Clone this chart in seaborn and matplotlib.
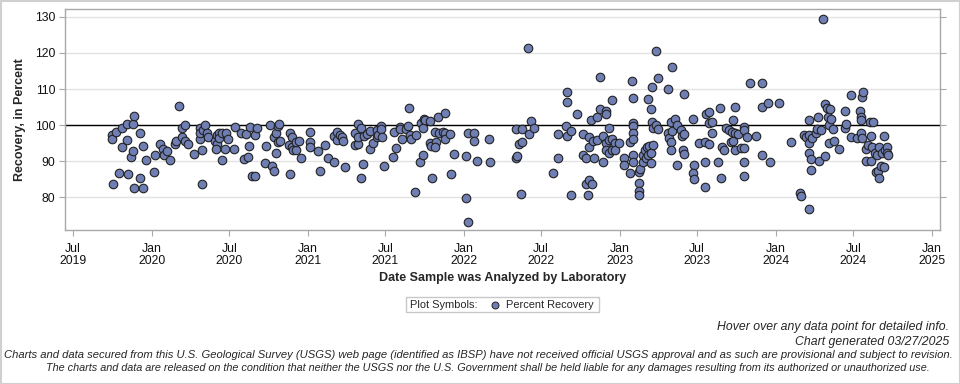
import matplotlib
matplotlib.use("Agg")
import matplotlib.pyplot as plt
import matplotlib.dates as mdates
from matplotlib.lines import Line2D
from matplotlib.patches import Rectangle
import seaborn as sns
import pandas as pd

# analysis dates (month-day) and percent recovery, one pair of lists per year
dates_2019 = ["09-30", "10-01", "10-02", "10-09", "10-17", "10-23", "10-24", "11-04", "11-05", "11-06",
              "11-14", "11-18", "11-18", "11-21", "11-21", "12-05", "12-05", "12-12", "12-12", "12-19"]
recovery_2019 = [97.3, 96.1, 83.6, 98.1, 86.7, 93.9, 99.2, 100.2, 95.8, 86.5,
                 91.1, 100.3, 92.8, 102.6, 82.5, 97.8, 85.3, 94.2, 82.5, 90.3]

dates_2020 = ["01-07", "01-09", "01-21", "01-28", "01-29", "02-06", "02-13", "02-24", "02-28", "03-04",
              "03-11", "03-12", "03-19", "03-18", "03-25", "04-09", "04-22", "04-23", "04-22", "04-29",
              "04-28", "04-28", "05-05", "05-09", "05-12", "05-29", "06-01", "06-01", "05-31", "06-06",
              "06-06", "06-13", "06-13", "06-20", "06-23", "06-27", "07-11", "07-14", "07-29", "08-03",
              "08-08", "08-14", "08-16", "08-18", "08-22", "08-30", "08-31", "09-04", "09-22", "09-25",
              "10-04", "10-08", "10-14", "10-14", "10-19", "10-18", "10-22", "10-25", "10-23", "10-27",
              "11-19", "11-21", "11-24", "11-18", "11-24", "11-28", "12-03", "12-03", "12-10", "12-16"]
recovery_2020 = [87.0, 91.7, 94.8, 93.3, 91.7, 92.8, 90.3, 94.8, 95.7, 105.4,
                 96.8, 99.1, 100.1, 95.7, 94.8, 92.0, 96.1, 99.1, 97.9, 98.5,
                 93.1, 83.6, 100.1, 97.9, 96.7, 95.7, 97.3, 94.8, 93.3, 97.7,
                 96.3, 97.9, 90.3, 93.3, 97.7, 96.1, 93.3, 99.4, 97.8, 90.6,
                 97.5, 91.1, 94.2, 99.4, 85.9, 85.9, 97.3, 99.2, 89.5, 94.2,
                 100.1, 88.6, 87.3, 96.7, 97.9, 92.2, 99.7, 100.4, 95.4, 95.7,
                 86.5, 97.8, 96.7, 94.5, 93.9, 93.0, 93.0, 95.4, 95.7, 90.8]

dates_2021 = ["01-05", "01-05", "01-05", "01-24", "01-29", "02-10", "02-17", "03-03", "03-03", "03-09",
              "03-10", "03-17", "03-21", "03-24", "03-28", "04-22", "04-20", "04-27", "04-28", "04-27",
              "05-05", "05-05", "05-10", "05-12", "05-20", "05-26", "05-26", "06-03", "06-11", "06-12",
              "06-14", "06-21", "06-22", "06-23", "06-28", "07-19", "07-21", "07-26", "08-04", "08-05",
              "08-09", "08-18", "08-23", "08-25", "08-29", "08-30", "09-09", "09-10", "09-21", "09-22",
              "09-28", "09-28", "09-29", "10-02", "10-14", "10-14", "10-15", "10-19", "10-25", "10-27",
              "10-26", "11-02", "11-04", "11-12", "11-18", "11-18", "11-19", "11-29", "12-02", "12-09"]
recovery_2021 = [98.1, 95.4, 93.9, 92.7, 87.3, 94.4, 90.8, 97.0, 89.7, 98.1,
                 95.9, 97.3, 96.7, 95.7, 88.3, 97.8, 94.5, 94.8, 100.3, 96.7,
                 99.2, 85.3, 89.3, 97.0, 97.5, 93.3, 98.4, 95.0, 96.7, 98.5,
                 97.3, 99.8, 98.9, 96.7, 88.6, 91.1, 98.1, 93.6, 99.6, 98.9,
                 96.1, 98.9, 99.8, 104.7, 97.3, 96.1, 81.5, 97.3, 89.7, 100.6,
                 99.2, 91.8, 101.7, 101.3, 101.0, 95.0, 94.3, 85.3, 98.1, 95.3,
                 93.9, 102.2, 97.8, 98.2, 103.3, 97.8, 96.1, 97.5, 86.4, 92.0]

dates_2022 = ["01-05", "01-05", "01-11", "01-11", "01-25", "01-25", "02-01", "03-01", "03-03", "05-03",
              "05-03", "05-06", "05-11", "05-15", "05-17", "05-18", "06-03", "06-08", "06-15", "05-31",
              "07-29", "08-09", "08-09", "08-31", "08-31", "08-29", "08-30", "09-10", "09-10", "09-24",
              "10-07", "10-07", "10-14", "10-13", "10-19", "10-21", "10-27", "10-20", "10-22", "10-26",
              "10-31", "11-02", "11-09", "11-09", "11-16", "11-16", "11-23", "11-23", "11-30", "11-30",
              "11-29", "11-29", "12-07", "12-07", "12-07", "12-14", "12-14", "12-14", "12-21", "12-21",
              "12-30"]
recovery_2022 = [91.4, 79.7, 97.8, 73.1, 97.8, 95.6, 90.0, 96.1, 89.7, 98.9,
                 90.8, 91.5, 94.8, 80.8, 98.9, 95.3, 97.5, 101.1, 99.2, 121.5,
                 86.8, 97.5, 90.8, 109.2, 106.4, 99.8, 97.0, 80.6, 98.3, 103.1,
                 97.5, 91.8, 90.8, 83.6, 80.6, 84.8, 83.6, 96.7, 93.9, 101.5,
                 95.6, 90.8, 102.2, 95.9, 113.3, 104.4, 97.0, 89.7, 104.0, 103.1,
                 95.0, 93.1, 99.2, 95.9, 92.2, 107.0, 96.1, 93.1, 95.0, 93.1,
                 95.0]

dates_2023 = ["01-11", "01-11", "01-24", "01-24", "01-29", "02-01", "02-01", "02-01", "02-01", "02-01",
              "02-01", "02-01", "02-15", "02-17", "02-15", "02-15", "02-15", "02-24", "02-24", "03-01",
              "03-03", "03-06", "03-08", "03-08", "03-11", "03-15", "03-15", "03-17", "03-17", "03-16",
              "03-19", "03-21", "03-26", "03-26", "04-01", "04-01", "04-24", "04-24", "04-26", "04-30",
              "04-30", "05-01", "05-03", "05-03", "05-11", "05-15", "05-15", "05-24", "05-27", "05-31",
              "05-29", "06-01", "06-01", "06-22", "06-24", "06-22", "06-23", "07-06", "07-20", "07-20",
              "07-20", "07-21", "07-28", "07-28", "07-29", "08-04", "08-04", "08-19", "08-23", "08-26",
              "08-28", "09-02", "09-07", "09-15", "09-19", "09-23", "09-24", "09-21", "09-28", "09-28",
              "09-29", "10-05", "10-11", "10-18", "10-18", "10-18", "10-18", "10-18", "10-26", "11-02",
              "11-17", "11-30", "11-30", "11-30", "12-14", "12-19"]
recovery_2023 = [90.8, 88.9, 95.4, 86.7, 112.2, 107.5, 100.6, 99.7, 97.8, 96.1,
                 91.8, 89.7, 87.0, 87.8, 83.9, 81.7, 80.6, 89.7, 91.8, 93.1,
                 90.8, 93.9, 91.6, 107.2, 94.1, 104.4, 92.2, 110.6, 100.9, 89.6,
                 99.2, 94.5, 99.9, 120.6, 113.1, 98.9, 110.0, 97.8, 96.4, 100.9,
                 95.2, 93.1, 116.1, 98.4, 101.7, 99.9, 88.9, 98.5, 97.1, 97.4,
                 93.1, 92.0, 108.6, 101.7, 88.9, 86.7, 85.0, 95.0, 95.4, 89.7,
                 82.9, 103.2, 103.5, 94.7, 100.6, 100.9, 97.8, 89.7, 104.7, 85.3,
                 93.9, 93.1, 99.2, 98.5, 95.2, 95.6, 101.5, 98.2, 105.0, 93.1,
                 97.8, 97.4, 93.6, 93.6, 99.6, 98.5, 89.7, 85.9, 96.7, 111.8,
                 97.0, 111.8, 105.0, 91.7, 106.1, 89.7]

dates_2024 = ["01-09", "02-07", "02-27", "03-01", "03-20", "03-08", "03-13", "03-20", "03-20", "03-20",
              "03-20", "03-24", "03-24", "03-27", "04-04", "04-07", "04-09", "04-11", "04-17", "04-21",
              "04-26", "04-26", "05-01", "05-03", "05-05", "05-05", "05-07", "05-10", "05-15", "05-17",
              "05-29", "06-12", "06-12", "06-14", "06-26", "06-26", "07-10", "07-17", "07-18", "07-19",
              "07-22", "07-24", "07-19", "07-22", "07-31", "07-30", "08-05", "08-10", "08-12", "08-12",
              "08-16", "08-14", "08-20", "08-24", "08-28", "08-30", "08-26", "08-29", "09-04", "09-07",
              "09-11", "09-11", "09-14", "09-19", "09-19", "09-20"]
recovery_2024 = [106.1, 95.3, 81.2, 80.4, 76.8, 97.2, 96.8, 97.2, 95.0, 101.5,
                 92.2, 90.6, 87.5, 96.5, 97.8, 98.9, 102.2, 90.0, 98.7, 129.4,
                 105.8, 91.5, 104.7, 102.2, 100.0, 95.0, 104.4, 101.7, 98.9, 95.6,
                 93.3, 103.9, 99.2, 100.3, 108.3, 96.7, 96.4, 103.9, 102.2, 101.5,
                 107.8, 109.2, 97.8, 96.5, 93.3, 90.0, 94.4, 100.8, 90.0, 97.0,
                 100.8, 93.9, 92.2, 87.0, 87.4, 85.3, 91.6, 93.9, 88.7, 92.2,
                 97.0, 88.3, 93.1, 93.9, 92.2, 91.6]

years = [
    (2019, dates_2019, recovery_2019),
    (2020, dates_2020, recovery_2020),
    (2021, dates_2021, recovery_2021),
    (2022, dates_2022, recovery_2022),
    (2023, dates_2023, recovery_2023),
    (2024, dates_2024, recovery_2024),
]
frames = []
for yr, md, rec in years:
    frames.append(pd.DataFrame({"date": pd.to_datetime([f"{yr}-{d}" for d in md]),
                                "recovery": rec}))
df = pd.concat(frames, ignore_index=True)

sns.set_style("white")
plt.rcParams["font.family"] = ["Liberation Sans", "DejaVu Sans"]

point_color = "#6f7eb3"
frame_gray = "#a8a8a8"

fig = plt.figure(figsize=(9.6, 3.84), dpi=100)
ax = fig.add_axes([65 / 960, 1 - 230 / 384, 875 / 960, 221 / 384])

ax.yaxis.grid(True, color="#e2e2e2", lw=1)
ax.set_axisbelow(True)
ax.axhline(100, color="black", lw=1, zorder=2)

sns.scatterplot(data=df, x="date", y="recovery", ax=ax, s=38, color=point_color,
                edgecolor="#222222", linewidth=0.8, zorder=3, legend=False)

ax.set_xlim(pd.Timestamp("2019-06-12"), pd.Timestamp("2025-01-20"))
ax.set_ylim(70.9, 132.2)
ax.set_yticks([80, 90, 100, 110, 120, 130])
ax.xaxis.set_major_locator(mdates.MonthLocator(bymonth=[1, 7]))
ax.xaxis.set_major_formatter(mdates.DateFormatter("%b\n%Y"))

for s in ax.spines.values():
    s.set_color(frame_gray)
    s.set_linewidth(1)
ax.tick_params(axis="both", direction="out", length=4.5, width=0.8, color=frame_gray,
               labelsize=8.8, labelcolor="#111111", pad=2.5)
ax.tick_params(axis="y", right=True, labelright=False, left=True)
ax.tick_params(axis="x", bottom=True, pad=4.5)
for lab in ax.get_xticklabels():
    lab.set_linespacing(1.1)

ax.set_xlabel("Date Sample was Analyzed by Laboratory", fontsize=9, fontweight="bold", labelpad=3)
ax.set_ylabel("Recovery, in Percent", fontsize=9, fontweight="bold", labelpad=6)

# legend box
fig.patches.append(Rectangle((406 / 960, 1 - 312 / 384), 193 / 960, 15.5 / 384,
                             transform=fig.transFigure, fill=False, ec="#c8c8c8", lw=1))
fig.text(410 / 960, 1 - 304.5 / 384, "Plot Symbols:", fontsize=7.9, va="center", ha="left")
fig.lines.append(Line2D([495 / 960], [1 - 304.5 / 384], transform=fig.transFigure, marker="o",
                        ms=5, mfc=point_color, mec="#222222", mew=0.7, ls="none"))
fig.text(506 / 960, 1 - 304.5 / 384, "Percent Recovery", fontsize=7.9, va="center", ha="left")

# footers
fig.text(949 / 960, 1 - 327 / 384, "Hover over any data point for detailed info.",
         fontsize=8.8, style="italic", ha="right", va="center")
fig.text(949 / 960, 1 - 342 / 384, "Chart generated 03/27/2025",
         fontsize=8.8, style="italic", ha="right", va="center")
fig.text(478 / 960, 1 - 355 / 384,
         "Charts and data secured from this U.S. Geological Survey (USGS) web page (identified as IBSP) "
         "have not received official USGS approval and as such are provisional and subject to revision.",
         fontsize=8.1, style="italic", ha="center", va="center")
fig.text(488 / 960, 1 - 368 / 384,
         "The charts and data are released on the condition that neither the USGS nor the U.S. Government "
         "shall be held liable for any damages resulting from its authorized or unauthorized use.",
         fontsize=7.8, style="italic", ha="center", va="center")

# outer frame of the image
fig.patches.append(Rectangle((0.5 / 960, 0.5 / 384), 959 / 960, 383 / 384, transform=fig.transFigure,
                             fill=False, ec="#d0d0d0", lw=1.5))

fig.savefig("out.png", dpi=100)
